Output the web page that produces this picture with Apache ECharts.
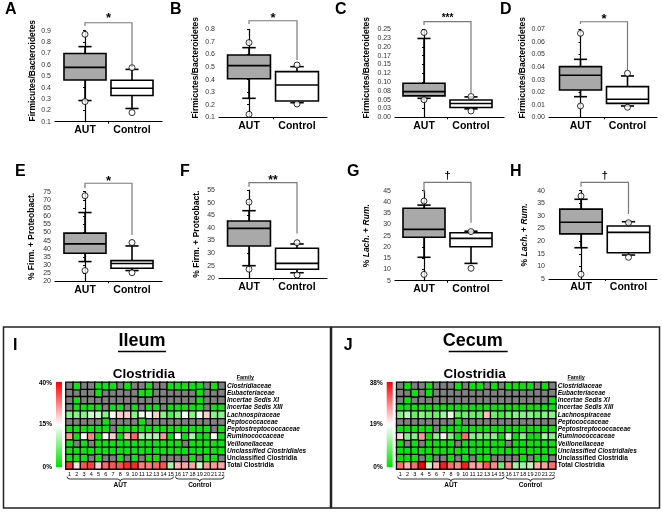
<!DOCTYPE html>
<html><head><meta charset="utf-8">
<script src="https://cdn.jsdelivr.net/npm/echarts@6/dist/echarts.min.js"></script>
<style>html,body{margin:0;padding:0;background:#fff}#c{width:662px;height:512px}</style>
</head><body><div id="c"></div><script>
const FONT = '"Liberation Sans", Arial, sans-serif';
const groups = ['AUT', 'Control'];

// ---- Box plot data: [lowerWhisker, Q1, median, Q3, upperWhisker] per group ----
const ticksA = ['0.1','0.2','0.3','0.4','0.5','0.6','0.7','0.8','0.9'];
const boxA = [[0.286,0.467,0.578,0.700,0.760],[0.216,0.330,0.394,0.465,0.560]];
const outA = [[0.868,0.277],[0.575,0.180]];
const bracketA = [0.970,0.941,0.584];

const ticksB = ['0.1','0.2','0.3','0.4','0.5','0.6','0.7','0.8'];
const boxB = [[0.251,0.407,0.511,0.596,0.654],[0.216,0.230,0.357,0.463,0.503]];
const outB = [[0.694,0.124],[0.516,0.206]];
const bracketB = [0.868,0.842,0.556];

const ticksC = ['0.00','0.03','0.05','0.08','0.10','0.12','0.15','0.17','0.20','0.23','0.25'];
const boxC = [[0.054,0.061,0.073,0.0966,0.224],[0.024,0.028,0.039,0.049,0.058]];
const outC = [[0.241,0.050],[0.059,0.018]];
const bracketC = [0.2716,0.2622,0.069];

const ticksD = ['0.00','0.01','0.02','0.03','0.04','0.05','0.06','0.07'];
const boxD = [[0.0164,0.0217,0.0334,0.0403,0.0461],[0.0090,0.0111,0.0143,0.0244,0.0329]];
const outD = [[0.0668,0.0090],[0.0350,0.0080]];
const bracketD = [0.0760,0.0742,0.0376];

const ticksE = ['20','25','30','35','40','45','50','55','60','65','70','75'];
const boxE = [[32.1,37.2,43.0,49.6,62.2],[26.6,28.0,30.9,32.7,41.7]];
const outE = [[72.5,26.6],[43.8,25.3]];
const bracketE = [80.2,77.1,48.4];

const ticksF = ['20','25','30','35','40','45','50','55'];
const boxF = [[25.0,32.8,39.8,42.7,46.8],[22.2,23.6,25.9,31.9,33.6]];
const outF = [[50.2,23.6],[34.1,21.3]];
const bracketF = [57.9,56.3,37.8];

const ticksG = ['5','10','15','20','25','30','35','40','45'];
const boxG = [[15.4,24.3,27.8,37.2,38.6],[12.7,20.1,23.8,26.3,27.0]];
const outG = [[40.4,7.8],[26.8,10.5]];
const bracketG = [48.7,44.1,30.8];

const ticksH = ['5','10','15','20','25','30','35','40'];
const boxH = [[17.4,22.9,27.5,32.7,36.6],[14.5,15.4,23.5,26.0,27.7]];
const outH = [[37.9,6.9],[27.3,13.6]];
const bracketH = [43.3,41.6,30.8];

// ---- Heatmap data (% of reads); null = not detected (gray) ----
const _ = null;
const samples = ['1','2','3','4','5','6','7','8','9','10','11','12','13','14','15','16','17','18','19','20','21','22'];
const families = ['Clostridiaceae','Eubacteriaceae','Incertae Sedis XI','Incertae Sedis XIII','Lachnospiraceae','Peptococcaceae','Peptostreptococcaceae','Ruminococcaceae','Veillonellaceae','Unclassified Clostridiales','Unclassified Clostridia','Total Clostridia'];
const uprightRows = ['Unclassified Clostridia','Total Clostridia'];
const braceSpans = [[0,14],[15,21]];
const ileumTicks = ['40%','15%','0%'];
const cecumTicks = ['38%','19%','0%'];
const ileum = [
 [_,1,_,_,1,1,1,_,1,_,_,1,_,_,1,1,1,1,1,_,1,_],
 [_,_,_,_,1,_,_,_,_,_,1,1,_,_,_,_,_,_,1,_,_,_],
 [_,1,_,_,_,_,_,_,_,_,_,_,_,_,_,_,_,_,1,_,_,_],
 [_,1,1,1,1,_,1,1,_,1,_,1,1,_,1,1,1,1,1,_,1,1],
 [8,8,8,12,12,8,15,20,20,8,14,14,20,8,5,8,15,8,14,20,8,8],
 [_,_,_,_,_,1,_,_,_,_,1,_,_,_,_,_,_,_,_,_,_,_],
 [1,1,1,1,1,1,_,1,1,1,1,1,1,1,1,1,1,1,1,1,_,1],
 [25,1,15,27,1,15,20,1,22,30,10,10,10,25,1,15,1,10,1,1,15,1],
 [1,_,1,_,1,1,1,1,1,1,1,1,1,1,1,1,_,1,1,1,1,1],
 [1,1,1,1,1,1,1,1,1,1,1,1,1,1,1,1,1,1,1,1,1,1],
 [1,1,1,_,1,_,_,1,_,1,_,1,1,_,_,_,_,1,_,1,1,_],
 [35,18,32,34,20,30,32,32,36,36,28,28,30,32,10,22,24,24,12,25,25,24]
];
const cecum = [
 [_,1,_,_,1,_,_,_,1,_,1,1,_,1,_,1,1,1,1,_,1,_],
 [_,_,1,_,1,_,_,_,_,_,_,_,_,_,_,_,_,_,_,_,_,_],
 [_,1,_,_,_,_,_,_,_,_,_,_,_,_,_,_,_,_,_,_,_,1],
 [1,1,1,1,1,1,1,1,1,1,1,1,1,1,1,1,1,1,1,1,1,1],
 [10,14,8,10,8,8,12,17,8,8,8,8,24,8,5,8,10,10,10,8,10,10],
 [_,_,_,_,_,_,_,_,1,_,_,_,_,_,_,_,_,_,_,_,_,_],
 [1,1,1,1,1,_,1,1,1,1,1,1,1,1,1,1,1,1,1,1,1,1],
 [22,10,10,27,1,10,20,10,1,30,10,10,8,10,1,15,1,10,1,1,12,10],
 [1,_,1,_,1,1,1,1,_,1,1,1,1,1,1,_,1,1,1,1,1,1],
 [1,1,1,1,1,1,1,1,1,1,1,1,1,1,1,1,1,1,1,1,1,1],
 [1,1,1,_,1,_,_,1,_,1,_,1,1,_,_,_,_,1,_,1,1,_],
 [30,25,30,38,15,25,36,30,28,36,26,26,32,28,8,28,12,12,14,25,26,30]
];

// ---- layout / style config ----
const panels = [
 {letter:'A',lx:5,ly:10,ticks:ticksA,box:boxA,out:outA,br:bracketA,sig:'*',ss:13,so:-4,name:'Firmicutes/Bacteroidetes',min:0.1,max:0.9,step:0.1,L:55,R:162,T:30.7,B:121.7,c0:85,c1:132,gap:17,pad:11},
 {letter:'B',lx:170,ly:10,ticks:ticksB,box:boxB,out:outB,br:bracketB,sig:'*',ss:13,so:-2,name:'Firmicutes/Bacteroidetes',min:0.1,max:0.8,step:0.1,L:219,R:327,T:29.3,B:117.3,c0:249,c1:297,gap:19,pad:11},
 {letter:'C',lx:335,ly:10,ticks:ticksC,box:boxC,out:outC,br:bracketC,sig:'***',ss:10,so:-3,name:'Firmicutes/Bacteroidetes',min:0,max:0.25,step:0.025,L:395,R:504,T:29.3,B:117.3,c0:424,c1:471,gap:23.5,pad:11},
 {letter:'D',lx:500,ly:10,ticks:ticksD,box:boxD,out:outD,br:bracketD,sig:'*',ss:13,so:-2.7,name:'Firmicutes/Bacteroidetes',min:0,max:0.07,step:0.01,L:549,R:657,T:29.3,B:117.3,c0:580.5,c1:627.5,gap:19,pad:11},
 {letter:'E',lx:15,ly:171.5,ticks:ticksE,box:boxE,out:outE,br:bracketE,sig:'*',ss:13,so:-2,name:'% Firm. + Proteobact.',min:20,max:75,step:5,L:55,R:162,T:191.7,B:281.3,c0:85,c1:132,gap:18.5,pad:0},
 {letter:'F',lx:180,ly:172,ticks:ticksF,box:boxF,out:outF,br:bracketF,sig:'**',ss:12,so:-2.2,name:'% Firm. + Proteobact.',min:20,max:55,step:5,L:219,R:327,T:190,B:278.3,c0:249,c1:297,gap:18,pad:0},
 {letter:'G',lx:347,ly:172,ticks:ticksG,box:boxG,out:outG,br:bracketG,sig:'\u2020',ss:11,so:-6.3,name:'% {i|Lach.} + {i|Rum.}',min:5,max:45,step:5,L:395,R:502,T:190.7,B:280.7,c0:424,c1:471,gap:23.5,pad:0},
 {letter:'H',lx:510,ly:172,ticks:ticksH,box:boxH,out:outH,br:bracketH,sig:'\u2020',ss:11,so:-6.3,name:'% {i|Lach.} + {i|Rum.}',min:5,max:40,step:5,L:549,R:657,T:190.7,B:279,c0:581,c1:628.5,gap:19.5,pad:0}
];

const GREEN = '#00e000';
const heatPanels = [
 {data:ileum, ticks:ileumTicks, title:'Ileum', L:66, T:382.3, W:159, H:86.7,
  colors:[GREEN,'#55ea55','#aaf5aa','#ffffff','#ffcccc','#ff9999','#ff6666','#ff3333','#ff0000'], max:40},
 {data:cecum, ticks:cecumTicks, title:'Cecum', L:396.7, T:382.3, W:159, H:86.7,
  colors:[GREEN,'#80f080','#ffffff','#ff8080','#ff0000'], max:38}
];

function renderBox(params, api) {
  const x = api.value(0);
  const v = [1,2,3,4,5].map(i => api.value(i));
  const band = api.size([1, 0])[0];
  const hw = band * 0.447, cw = band * 0.14;
  const p = v.map(val => api.coord([x, val]));
  const cx = p[0][0];
  const st = {stroke:'#000', lineWidth:1.6, fill:null};
  return {type:'group', children:[
    {type:'line', shape:{x1:cx,y1:p[0][1],x2:cx,y2:p[1][1]}, style:st},
    {type:'line', shape:{x1:cx,y1:p[3][1],x2:cx,y2:p[4][1]}, style:st},
    {type:'line', shape:{x1:cx-cw,y1:p[0][1],x2:cx+cw,y2:p[0][1]}, style:st},
    {type:'line', shape:{x1:cx-cw,y1:p[4][1],x2:cx+cw,y2:p[4][1]}, style:st},
    {type:'rect', shape:{x:cx-hw,y:p[3][1],width:2*hw,height:p[1][1]-p[3][1]}, style:{fill: x === 0 ? '#a9a9a9' : '#ffffff', stroke:'#000', lineWidth:1.6}},
    {type:'line', shape:{x1:cx-hw,y1:p[2][1],x2:cx+hw,y2:p[2][1]}, style:st}
  ]};
}
function makeBracket(sig, size, off) {
  return function(params, api) {
    const t = api.value(1);
    const a = api.coord([0, t]), b = api.coord([1, t]);
    const l = api.coord([0, api.value(2)]), r = api.coord([1, api.value(3)]);
    return {type:'group', children:[
      {type:'polyline', shape:{points:[l, a, b, r]}, style:{stroke:'#7a7a7a', lineWidth:1.2, fill:null}},
      {type:'text', x:(a[0]+b[0])/2, y:a[1]+off, style:{text:sig, font:'bold '+size+'px '+FONT, fill:'#000', textAlign:'center', textVerticalAlign:'middle'}}
    ]};
  };
}
function renderBrace(params, api) {
  const a = api.value(0), b = api.value(2);
  const pa = api.coord([a, 11]), pb = api.coord([b, 11]);
  const sz = api.size([1, 1]);
  const x0 = pa[0] - sz[0]/2 + 1, x1 = pb[0] + sz[0]/2 - 1;
  const y0 = pa[1] + sz[1]/2 + 7.5, h = 5, xm = (x0 + x1)/2, ym = y0 + h/2;
  const d = `M${x0},${y0} Q${x0},${ym} ${x0+3},${ym} L${xm-3},${ym} Q${xm},${ym} ${xm},${y0+h} Q${xm},${ym} ${xm+3},${ym} L${x1-3},${ym} Q${x1},${ym} ${x1},${y0}`;
  return {type:'group', children:[
    {type:'path', shape:{pathData:d}, style:{stroke:'#000', lineWidth:0.8, fill:null}},
    {type:'text', x:xm, y:y0+h+4, style:{text:groups[params.dataIndex], font:'bold 6.5px '+FONT, fill:'#000', textAlign:'center', textVerticalAlign:'middle'}}
  ]};
}

const grid = [], xAxis = [], yAxis = [], series = [], graphic = [], visualMap = [];
panels.forEach((p, i) => {
  grid.push({left:p.L, top:p.T, width:p.R - p.L, height:p.B - p.T});
  const span = p.c1 - p.c0;
  xAxis.push({gridIndex:i, type:'value', min:(p.L - p.c0)/span, max:1 + (p.R - p.c1)/span,
    axisLine:{show:true, onZero:false, lineStyle:{color:'#000', width:1.2}},
    axisTick:{show:true, customValues:[0.5], length:2, lineStyle:{color:'#000'}},
    axisLabel:{show:true, customValues:[0,1], formatter:v => groups[Math.round(v)], fontFamily:FONT, fontWeight:'bold', fontSize:10.5, color:'#000', margin:3},
    splitLine:{show:false}});
  yAxis.push({gridIndex:i, type:'value', min:p.min, max:p.max, interval:p.step,
    axisLine:{show:true, lineStyle:{color:'#000', width:1.2}},
    axisTick:{show:true, length:2, lineStyle:{color:'#000'}},
    axisLabel:{fontFamily:FONT, fontSize:7, color:'#333', margin:4, formatter:v => p.ticks[Math.round((v - p.min)/p.step)] || ''},
    splitLine:{show:false},
    name:p.name, nameLocation:'middle', nameGap:p.gap, nameRotate:90,
    nameTextStyle:{fontFamily:FONT, fontSize:8.5, fontWeight:'bold', color:'#000', padding:[0,0,0,p.pad],
      rich:{i:{fontFamily:FONT, fontSize:8.5, fontWeight:'bold', fontStyle:'italic', color:'#000'}}}});
  series.push({type:'custom', xAxisIndex:i, yAxisIndex:i, silent:true, z:2,
    data:p.box.map((b, k) => [k, ...b]), encode:{x:0, y:[1,2,3,4,5]}, renderItem:renderBox});
  series.push({type:'scatter', xAxisIndex:i, yAxisIndex:i, silent:true, z:3, symbol:'circle', symbolSize:6,
    itemStyle:{color:'#fff', borderColor:'#000', borderWidth:1},
    data:p.out.flatMap((o, k) => o.map(v => [k, v]))});
  series.push({type:'custom', xAxisIndex:i, yAxisIndex:i, silent:true, z:4,
    data:[[0.5, p.br[0], p.br[1], p.br[2]]], encode:{x:0, y:1}, renderItem:makeBracket(p.sig, p.ss, p.so)});
  graphic.push({type:'text', x:p.lx, y:p.ly, style:{text:p.letter, font:'bold 16px '+FONT, fill:'#000', textVerticalAlign:'middle'}});
});

heatPanels.forEach((h, j) => {
  const gi = panels.length + j;
  grid.push({left:h.L, top:h.T, width:h.W, height:h.H, show:true, backgroundColor:'#000', borderWidth:0});
  xAxis.push({gridIndex:gi, type:'category', data:samples, axisLine:{show:false}, axisTick:{show:false},
    axisLabel:{interval:0, fontFamily:FONT, fontSize:5.5, color:'#000', margin:2}, splitLine:{show:false}});
  yAxis.push({gridIndex:gi, type:'category', data:families, inverse:true, position:'right',
    axisLine:{show:false}, axisTick:{show:false}, splitLine:{show:false},
    axisLabel:{interval:0, margin:2, fontFamily:FONT, fontSize:6.5, fontWeight:'bold', fontStyle:'italic', color:'#000',
      formatter:v => uprightRows.includes(v) ? '{n|' + v + '}' : v,
      rich:{n:{fontFamily:FONT, fontSize:6.5, fontWeight:'bold', fontStyle:'normal', color:'#000'}}}});
  const grayCells = [], colCells = [];
  h.data.forEach((row, r) => row.forEach((v, c) => { if (v === null) grayCells.push([c, r, 0]); else colCells.push([c, r, v]); }));
  series.push({type:'heatmap', xAxisIndex:gi, yAxisIndex:gi, data:grayCells, silent:true,
    itemStyle:{color:'#808080', borderColor:'#000', borderWidth:1.3}});
  visualMap.push({type:'continuous', show:false, seriesIndex:series.length, dimension:2, min:0, max:h.max, inRange:{color:h.colors}});
  series.push({type:'heatmap', xAxisIndex:gi, yAxisIndex:gi, data:colCells, silent:true,
    itemStyle:{borderColor:'#000', borderWidth:1.3}});
  series.push({type:'custom', xAxisIndex:gi, yAxisIndex:gi, silent:true,
    data:braceSpans.map(s => [s[0], 11, s[1]]), encode:{x:0, y:1}, renderItem:renderBrace});
  const ox = j * 330.7;
  graphic.push({type:'rect', shape:{x:3.5 + j*328, y:327, width:j ? 328 : 327, height:181}, style:{fill:null, stroke:'#222', lineWidth:1.5}});
  graphic.push({type:'text', x:13 + ox, y:346, style:{text:j ? 'J' : 'I', font:'bold 16px '+FONT, fill:'#000', textVerticalAlign:'middle'}});
  graphic.push({type:'text', x:142 + ox, y:341.5, style:{text:h.title, font:'bold 18px '+FONT, fill:'#000', textAlign:'center', textVerticalAlign:'middle'}});
  graphic.push({type:'line', shape:{x1:118 + ox, y1:351.5, x2:(j ? 177 : 166) + ox, y2:351.5}, style:{stroke:'#000', lineWidth:1.5}});
  graphic.push({type:'text', x:144 + ox, y:374, style:{text:'Clostridia', font:'bold 13.5px '+FONT, fill:'#000', textAlign:'center', textVerticalAlign:'middle'}});
  graphic.push({type:'text', x:236.7 + ox, y:377, style:{text:'Family', font:'bold 5.5px '+FONT, fill:'#000', textVerticalAlign:'middle'}});
  graphic.push({type:'line', shape:{x1:236.7 + ox, y1:380, x2:254 + ox, y2:380}, style:{stroke:'#000', lineWidth:0.6}});
  graphic.push({type:'rect', shape:{x:56 + ox, y:382, width:6, height:85},
    style:{fill:new echarts.graphic.LinearGradient(0,0,0,1,[{offset:0,color:'#ff0000'},{offset:0.5,color:'#ffffff'},{offset:1,color:GREEN}])}});
  [383, 424.5, 467].forEach((yy, k) => graphic.push({type:'text', x:52 + ox, y:yy,
    style:{text:h.ticks[k], font:'bold 6.5px '+FONT, fill:'#000', textAlign:'right', textVerticalAlign:'middle'}}));
});

const chart = echarts.init(document.getElementById('c'), null, {renderer:'canvas'});
chart.setOption({animation:false, backgroundColor:'#fff', textStyle:{fontFamily:FONT},
  grid, xAxis, yAxis, series, visualMap, graphic});
</script></body></html>
